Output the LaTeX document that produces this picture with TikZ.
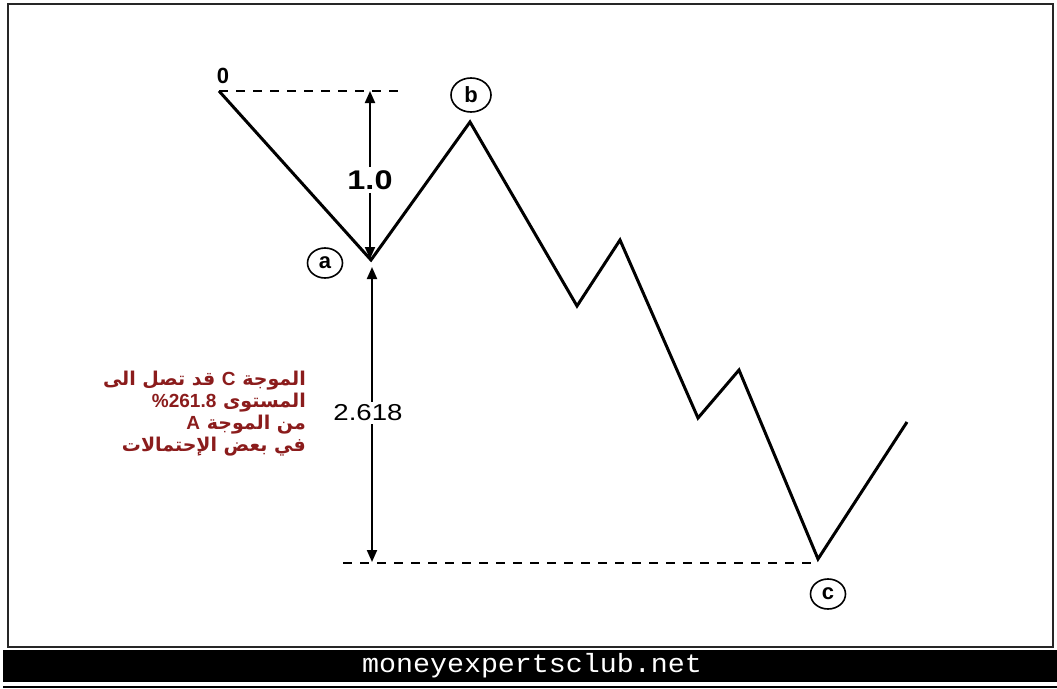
\documentclass[tikz,border=0pt]{standalone}
\usepackage{fontspec}
\setmainfont{Liberation Sans}
\newfontfamily\arabicfont[Script=Arabic]{DejaVu Sans}
\newfontfamily\monofont{Liberation Mono}
\newfontfamily\latinfont{Liberation Sans}
\TeXXeTstate=1
\usetikzlibrary{arrows.meta,shapes.geometric}
\definecolor{wavered}{RGB}{139,28,28}
\begin{document}
\begin{tikzpicture}[x=1pt,y=-1pt,
  wave/.style={line width=3pt, line join=miter},
  guide/.style={line width=2pt, dash pattern=on 9pt off 8pt},
  measure/.style={line width=2pt, -{Triangle[length=12pt,width=10pt]}},
  ptlabel/.style={draw, ellipse, line width=1.6pt, inner sep=0pt, minimum width=35pt, minimum height=30pt, font=\bfseries\fontsize{22}{22}\selectfont},
  numlabel/.style={inner sep=3pt},
  note/.style={text=wavered, align=right, font=\arabicfont\bfseries\fontsize{19}{22}\selectfont, inner sep=0pt},
]
\useasboundingbox (0,0) rectangle (1057,688);
\fill[white] (0,0) rectangle (1057,688);
\draw[line width=2pt, draw=black!85] (8,4) rectangle (1053,647);
\fill[black] (3,650) rectangle (1057,682);
\draw[line width=2pt] (3,687) -- (1057,687);
\node[text=white, font=\monofont\fontsize{24}{24}\selectfont] (site) at (532,666) {\scalebox{1.18}[1.1]{moneyexpertsclub.net}};

% wave points
\coordinate (O) at (219,91);
\coordinate (A) at (371,260);
\coordinate (B) at (470,122);
\coordinate (w1) at (577,306);
\coordinate (w2) at (620,240);
\coordinate (w3) at (698,418);
\coordinate (w4) at (739,370);
\coordinate (C) at (818,559);
\coordinate (E) at (907,422);

% guides
\coordinate (topEnd) at (402,91);
\coordinate (botStart) at (343,563);
\coordinate (botEnd) at (818,563);
\draw[guide] (O) -- (topEnd);
\draw[guide] (botStart) -- (botEnd);

\draw[wave] (O) -- (A) -- (B) -- (w1) -- (w2) -- (w3) -- (w4) -- (C) -- (E);

% measurements
\coordinate (t1) at (370,91);
\coordinate (t2) at (370,259);
\coordinate (t3) at (372,267);
\coordinate (t4) at (372,562);
\node[numlabel, font=\bfseries\fontsize{27}{27}\selectfont] (one) at (370,180) {\scalebox{1.2}[1]{1.0}};
\node[numlabel, font=\fontsize{23}{23}\selectfont] (two) at (368,413) {\scalebox{1.2}[1]{2.618}};
\draw[measure] (one.north) -- (t1);
\draw[measure] (one.south) -- (t2);
\draw[measure] (two.north -| t3) -- (t3);
\draw[measure] (two.south -| t4) -- (t4);

% point labels
\node[font=\bfseries\fontsize{22}{22}\selectfont] (lo) at (223,76) {0};
\node[ptlabel] (la) at (325,263) {a};
\node[ptlabel, minimum width=40pt, minimum height=34pt] (lb) at (471,95) {b};
\node[ptlabel] (lc) at (828,594) {c};

% note
\node[note, anchor=east] (txt) at (306,414) {%
\beginR الموجة {\latinfont\bfseries C} قد تصل الى\endR\\
\beginR المستوى {\latinfont\bfseries\beginL\%261.8\endL{}}\endR\\
\beginR من الموجة {\latinfont\bfseries A}\endR\\
\beginR في بعض الإحتمالات\endR};
\end{tikzpicture}
\end{document}
